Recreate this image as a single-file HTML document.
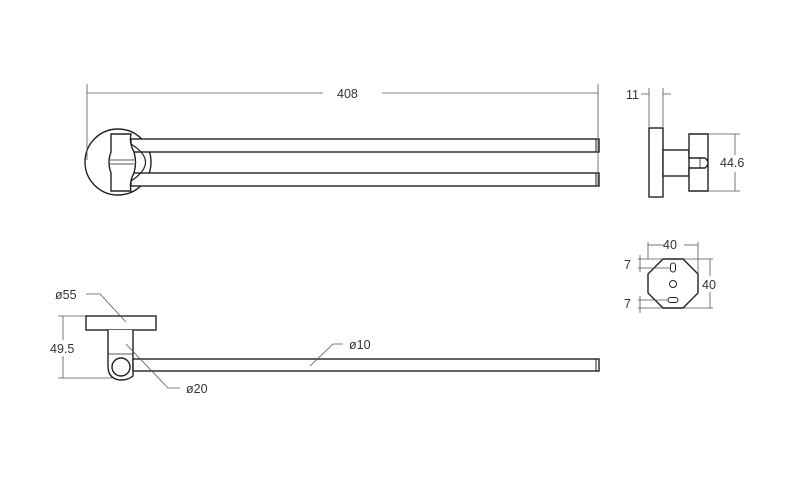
<!DOCTYPE html>
<html><head><meta charset="utf-8"><style>
html,body{margin:0;padding:0;background:#fff}
svg{display:block}
text{font-family:"Liberation Sans",sans-serif;font-size:12.5px;fill:#333}
</style></head><body>
<svg width="792" height="485" viewBox="0 0 792 485" xmlns="http://www.w3.org/2000/svg">
<g fill="none" stroke="#222" stroke-width="1.4">
<circle cx="118" cy="162" r="33" fill="#fff"/>
<rect x="131" y="139" width="468" height="13" fill="#fff"/>
<rect x="131" y="173" width="468" height="13" fill="#fff"/>
<line x1="596" y1="139" x2="596" y2="152" stroke-width="1"/>
<line x1="596" y1="173" x2="596" y2="186" stroke-width="1"/>
<path d="M131 144 Q160 162 131 181" stroke-width="1.2"/>
<path d="M111 134 H131 Q129 143 134 152 Q137 162 134 173 Q129 182 131 191 H111 V173 Q107 162 111 152 Z" fill="#fff"/>
<line x1="110" y1="160" x2="134" y2="160" stroke-width="0.8"/>
<line x1="110" y1="164" x2="134" y2="164" stroke-width="0.8"/>
<rect x="649" y="128" width="14" height="69" fill="#fff"/>
<rect x="663" y="150" width="26" height="26" fill="#fff"/>
<path d="M689 134 H708 V191 H689 V168 H705 Q711 163 705 158 H689 Z" fill="#fff"/>
<line x1="700" y1="158" x2="700" y2="168" stroke-width="0.8"/>
<polygon points="663,259 683,259 698,274 698,293 683,308 663,308 648,293 648,274" fill="#fff"/>
<rect x="670.5" y="263" width="5" height="9" rx="2.5" stroke-width="1"/>
<circle cx="673" cy="284" r="3.5" stroke-width="1"/>
<rect x="668" y="297.5" width="10" height="5" rx="2.5" stroke-width="1"/>
<rect x="86" y="316" width="70" height="14" fill="#fff"/>
<path d="M108 330 V366 Q108 380 122 380 Q128 380 133 376 V330" fill="#fff"/>
<rect x="133" y="359" width="466" height="12" fill="#fff"/>
<line x1="596" y1="359" x2="596" y2="371" stroke-width="1"/>
<circle cx="121" cy="367" r="9" fill="#fff"/>
<line x1="108" y1="354" x2="133" y2="354" stroke-width="0.8"/>
</g>
<g fill="none" stroke="#555" stroke-width="0.8">
<line x1="87" y1="84" x2="87" y2="160"/><line x1="598" y1="84" x2="598" y2="185"/>
<line x1="87" y1="93" x2="323" y2="93"/><line x1="382" y1="93" x2="598" y2="93"/>
<line x1="649" y1="88" x2="649" y2="128"/><line x1="663" y1="88" x2="663" y2="128"/>
<line x1="641" y1="94" x2="649" y2="94"/><line x1="663" y1="94" x2="671" y2="94"/>
<line x1="708" y1="134" x2="740" y2="134"/><line x1="708" y1="191" x2="740" y2="191"/>
<line x1="735" y1="134" x2="735" y2="155"/><line x1="735" y1="172" x2="735" y2="191"/>
<line x1="648" y1="242" x2="648" y2="259"/><line x1="698" y1="242" x2="698" y2="274"/>
<line x1="648" y1="245" x2="664" y2="245"/><line x1="684" y1="245" x2="698" y2="245"/>
<line x1="683" y1="259" x2="713" y2="259"/><line x1="683" y1="308" x2="713" y2="308"/>
<line x1="710" y1="259" x2="710" y2="276"/><line x1="710" y1="292" x2="710" y2="308"/>
<line x1="638" y1="259" x2="663" y2="259"/><line x1="638" y1="268" x2="671" y2="268"/>
<line x1="640" y1="255" x2="640" y2="272"/>
<line x1="638" y1="300" x2="668" y2="300"/><line x1="638" y1="308" x2="663" y2="308"/>
<line x1="640" y1="296" x2="640" y2="313"/>
<line x1="58" y1="316" x2="86" y2="316"/><line x1="58" y1="378" x2="112" y2="378"/>
<line x1="63" y1="316" x2="63" y2="340"/><line x1="63" y1="356" x2="63" y2="378"/>
<polyline points="86,294 100,294 126,322"/>
<polyline points="180,388 168,388 126,344"/>
<polyline points="343,344 333,344 310,366"/>
</g>
<text x="337" y="98">408</text>
<text x="626" y="99">11</text>
<text x="720" y="167">44.6</text>
<text x="663" y="249">40</text>
<text x="702" y="289">40</text>
<text x="624" y="269">7</text>
<text x="624" y="308">7</text>
<text x="55" y="299">ø55</text>
<text x="50" y="353">49.5</text>
<text x="186" y="393">ø20</text>
<text x="349" y="349">ø10</text>
</svg>
</body></html>
